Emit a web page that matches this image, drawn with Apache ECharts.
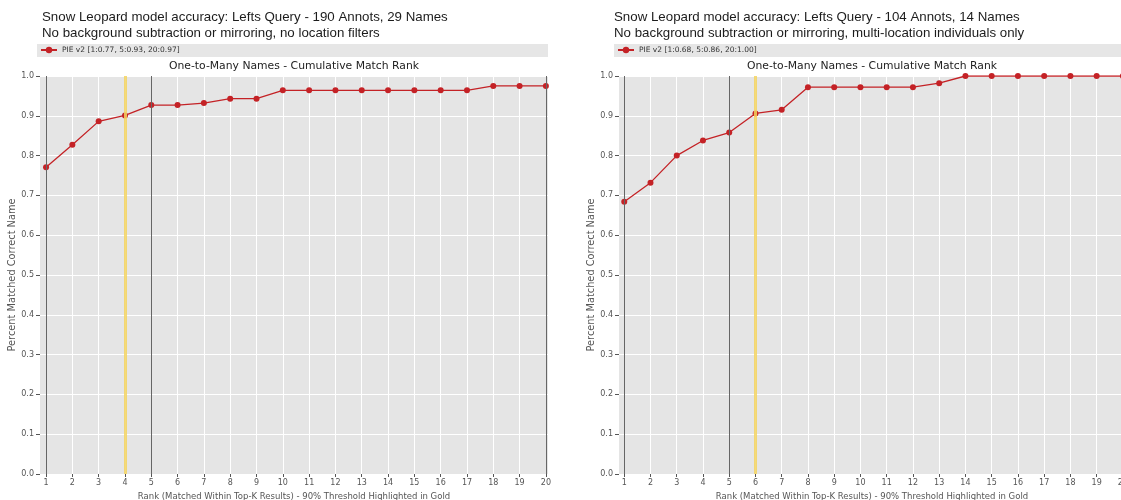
<!DOCTYPE html>
<html>
<head>
<meta charset="utf-8">
<script src="https://cdn.jsdelivr.net/npm/echarts@6/dist/echarts.min.js"></script>
<style>
  html, body { margin: 0; padding: 0; background: #fff; }
  #chart { width: 1121px; height: 500px; }
</style>
</head>
<body>
<div id="chart"></div>
<script>
const ranks = [1, 2, 3, 4, 5, 6, 7, 8, 9, 10, 11, 12, 13, 14, 15, 16, 17, 18, 19, 20];

const leftName = "PIE v2 [1:0.77, 5:0.93, 20:0.97]";
const leftValues = [0.771, 0.827, 0.886, 0.901, 0.927, 0.927, 0.932, 0.943, 0.943, 0.964,
  0.964, 0.964, 0.964, 0.964, 0.964, 0.964, 0.964, 0.975, 0.975, 0.975];
const leftDark = [1, 5, 20];
const leftGold = 4;

const rightName = "PIE v2 [1:0.68, 5:0.86, 20:1.00]";
const rightValues = [0.684, 0.732, 0.800, 0.838, 0.858, 0.906, 0.915, 0.972, 0.972, 0.972,
  0.972, 0.972, 0.982, 1.0, 1.0, 1.0, 1.0, 1.0, 1.0, 1.0];
const rightDark = [1, 5, 20];
const rightGold = 6;

const titles = [
  "Snow Leopard model accuracy: Lefts Query - 190 Annots, 29 Names\nNo background subtraction or mirroring, no location filters",
  "Snow Leopard model accuracy: Lefts Query - 104 Annots, 14 Names\nNo background subtraction or mirroring, multi-location individuals only"
];
const plotTitle = "One-to-Many Names - Cumulative Match Rank";
const xName = "Rank (Matched Within Top-K Results) - 90% Threshold Highlighted in Gold";
const yName = "Percent Matched Correct Name";

const red = "#c42226";
const labelColor = "#555";
const sansFont = "DejaVu Sans";

const myChart = echarts.init(document.getElementById("chart"));

const xAxisFor = (gridIndex, min, max) => ({
  type: "value",
  gridIndex,
  min,
  max,
  name: xName,
  nameLocation: "middle",
  nameGap: 15,
  nameTextStyle: { color: labelColor, fontSize: 8.5, fontFamily: sansFont },
  axisLine: { show: false },
  axisTick: { show: true, length: 3, customValues: ranks, lineStyle: { color: labelColor } },
  axisLabel: { color: labelColor, fontSize: 8, fontFamily: sansFont, margin: 5, customValues: ranks },
  splitLine: { show: true, lineStyle: { color: "#fff", width: 1 } },
});

const yAxisFor = (gridIndex) => ({
  type: "value",
  gridIndex,
  min: 0,
  max: 1,
  interval: 0.1,
  name: yName,
  nameLocation: "middle",
  nameGap: 21,
  nameTextStyle: { color: labelColor, fontSize: 9.8, fontFamily: sansFont },
  axisLine: { show: false },
  axisTick: { show: true, length: 4, lineStyle: { color: labelColor } },
  axisLabel: { color: labelColor, fontSize: 8, fontFamily: sansFont, margin: 6, formatter: (v) => v.toFixed(1) },
  splitLine: { show: true, lineStyle: { color: "#fff", width: 1 } },
});

const seriesFor = (idx, name, values, dark, gold) => ({
  name,
  type: "line",
  xAxisIndex: idx,
  yAxisIndex: idx,
  data: ranks.map((r, i) => [r, values[i]]),
  symbol: "circle",
  symbolSize: 6,
  lineStyle: { color: red, width: 1.3 },
  itemStyle: { color: red },
  clip: true,
  markLine: {
    silent: true,
    symbol: "none",
    label: { show: false },
    data: [
      ...dark.map((d) => ({ xAxis: d, lineStyle: { color: "#666", width: 1, type: "solid" } })),
      { xAxis: gold, lineStyle: { color: "#f3d460", width: 3, type: "solid", opacity: 0.85 } },
    ],
  },
});

const titleStyle = { fontSize: 13.3, fontWeight: "normal", color: "#1c1c1c", fontFamily: "Liberation Sans", lineHeight: 16 };
const plotTitleStyle = { fontSize: 10.8, fontWeight: "normal", color: "#222", fontFamily: sansFont };
const legendText = { fontSize: 7.5, color: "#333", fontFamily: sansFont };

const options = {
  animation: false,
  textStyle: { fontFamily: sansFont },
  graphic: [
    { type: "rect", shape: { x: 37, y: 44, width: 511, height: 13 }, style: { fill: "#e6e6e6" }, z: 0 },
    { type: "rect", shape: { x: 614, y: 44, width: 507, height: 13 }, style: { fill: "#e6e6e6" }, z: 0 },
  ],
  title: [
    { text: titles[0], left: 42, top: 9, padding: 0, textStyle: titleStyle },
    { text: titles[1], left: 614, top: 9, padding: 0, textStyle: titleStyle },
    { text: plotTitle, left: 294, top: 61, padding: 0, textAlign: "center", textStyle: plotTitleStyle },
    { text: plotTitle, left: 872, top: 61, padding: 0, textAlign: "center", textStyle: plotTitleStyle },
  ],
  legend: [
    { data: [leftName], left: 40, top: 46, itemWidth: 16, itemHeight: 8, itemGap: 4, padding: 0, textStyle: legendText },
    { data: [rightName], left: 617, top: 46, itemWidth: 16, itemHeight: 8, itemGap: 4, padding: 0, textStyle: legendText },
  ],
  grid: [
    { left: 40, top: 76, width: 508, height: 398, show: true, backgroundColor: "#e5e5e5", borderWidth: 0, outerBoundsMode: "none" },
    { left: 619, top: 76, width: 506, height: 398, show: true, backgroundColor: "#e5e5e5", borderWidth: 0, outerBoundsMode: "none" },
  ],
  xAxis: [xAxisFor(0, 0.77, 20.08), xAxisFor(1, 0.8, 20.08)],
  yAxis: [yAxisFor(0), yAxisFor(1)],
  series: [
    seriesFor(0, leftName, leftValues, leftDark, leftGold),
    seriesFor(1, rightName, rightValues, rightDark, rightGold),
  ],
};

myChart.setOption(options);
</script>
</body>
</html>
